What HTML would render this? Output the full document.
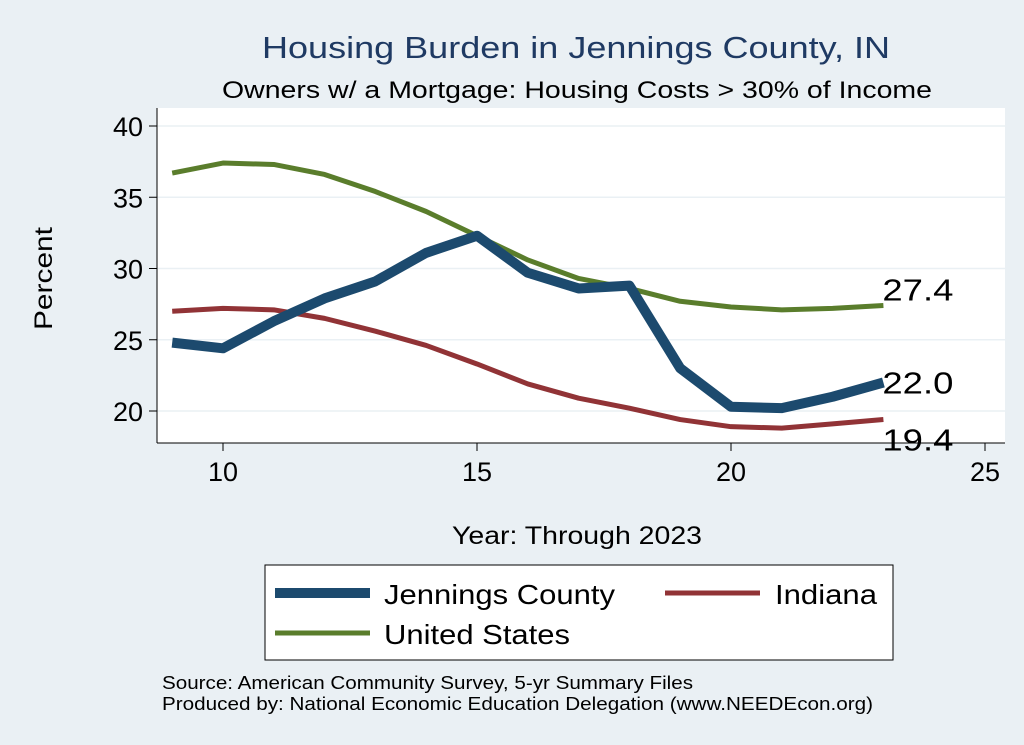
<!DOCTYPE html>
<html><head><meta charset="utf-8"><style>
body{margin:0;background:#eaf0f4;}
svg{display:block;font-family:"Liberation Sans",sans-serif;}
</style></head><body>
<svg id="chart" width="1024" height="745">
<rect x="0" y="0" width="1024" height="745" fill="#eaf0f4"/>
<text x="262" y="58" font-size="31" fill="#1f3a63" textLength="628" lengthAdjust="spacingAndGlyphs">Housing Burden in Jennings County, IN</text>
<text x="222" y="98" font-size="24" fill="#000" textLength="710" lengthAdjust="spacingAndGlyphs">Owners w/ a Mortgage: Housing Costs &gt; 30% of Income</text>
<rect x="157" y="108" width="848" height="335" fill="#fff"/>
<g id="grid"></g>
<g id="axes"></g>
<g id="series"></g>
<text x="52" y="330" font-size="25" textLength="103" lengthAdjust="spacingAndGlyphs" transform="rotate(-90 52 330)">Percent</text>
<text x="452" y="544" font-size="25" textLength="250" lengthAdjust="spacingAndGlyphs">Year: Through 2023</text>
<g>
<rect x="265" y="565" width="628" height="95" fill="#fff" stroke="#000" stroke-width="1"/>
<line x1="275" y1="593" x2="370" y2="593" stroke="#1c4a6e" stroke-width="10"/>
<text x="384" y="604" font-size="28" textLength="231" lengthAdjust="spacingAndGlyphs">Jennings County</text>
<line x1="665" y1="593" x2="760" y2="593" stroke="#913336" stroke-width="5"/>
<text x="775" y="604" font-size="28" textLength="102" lengthAdjust="spacingAndGlyphs">Indiana</text>
<line x1="275" y1="633" x2="370" y2="633" stroke="#5a7d2c" stroke-width="5"/>
<text x="384" y="644" font-size="28" textLength="186" lengthAdjust="spacingAndGlyphs">United States</text>
</g>
<text x="162" y="689" font-size="18" textLength="531" lengthAdjust="spacingAndGlyphs">Source: American Community Survey, 5-yr Summary Files</text>
<text x="162" y="710" font-size="18" textLength="711" lengthAdjust="spacingAndGlyphs">Produced by: National Economic Education Delegation (www.NEEDEcon.org)</text>
</svg>
<script>
const years=[9,10,11,12,13,14,15,16,17,18,19,20,21,22,23];
const jennings=[24.8,24.4,26.3,27.9,29.1,31.1,32.3,29.7,28.6,28.8,23.0,20.3,20.2,21.0,22.0];
const indiana=[27.0,27.2,27.1,26.5,25.6,24.6,23.3,21.9,20.9,20.2,19.4,18.9,18.8,19.1,19.4];
const us=[36.7,37.4,37.3,36.6,35.4,34.0,32.3,30.6,29.3,28.6,27.7,27.3,27.1,27.2,27.4];
const xTicks=[10,15,20,25];
const yTicks=[20,25,30,35,40];
const NS="http://www.w3.org/2000/svg";
function X(v){return 223+(v-10)*50.8;}
function Y(v){return 411-(v-20)*14.25;}
function mk(tag,attrs,parent,text){const e=document.createElementNS(NS,tag);for(const k in attrs)e.setAttribute(k,attrs[k]);if(text!==undefined)e.textContent=text;parent.appendChild(e);return e;}
const grid=document.getElementById('grid'),axes=document.getElementById('axes'),ser=document.getElementById('series');
yTicks.forEach(t=>{
 const g=mk('line',{x1:157,x2:1005,y1:Y(t),y2:Y(t),stroke:'#eaf0f4','stroke-width':1.5},grid);
 
 
 const tk=mk('line',{x1:149,x2:157,y1:Y(t),y2:Y(t),stroke:'#000'},axes);
 
 
 const lb=mk('text',{x:143,y:Y(t)+10,'font-size':27,'text-anchor':'end'},axes,String(t));
 
 
});
mk('line',{x1:157,x2:157,y1:108,y2:443,stroke:'#000'},axes);
mk('line',{x1:157,x2:1005,y1:443,y2:443,stroke:'#000'},axes);
xTicks.forEach(t=>{
 const tk=mk('line',{x1:X(t),x2:X(t),y1:443,y2:451,stroke:'#000'},axes);
 
 
 const lb=mk('text',{x:X(t),y:481,'font-size':27,'text-anchor':'middle'},axes,String(t));
 
 
});
function line(vals,color,w,name){
 const p=mk('polyline',{points:years.map((y,i)=>X(y)+','+Y(vals[i])).join(' '),fill:'none',stroke:color,'stroke-width':w,'stroke-linejoin':'round'},ser);
 
 
}
line(us,'#5a7d2c',5,'line-united-states');
line(indiana,'#913336',5,'line-indiana');
line(jennings,'#1c4a6e',10,'line-jennings-county');
const n=years.length-1;
[[us,'label-us-last',-5],[jennings,'label-jennings-last',11],[indiana,'label-indiana-last',31]].forEach(([v,nm,dy])=>{
 const e=mk('text',{x:X(years[n])-1,y:Y(v[n])+dy,'font-size':31,textLength:71,lengthAdjust:'spacingAndGlyphs'},ser,v[n].toFixed(1));
 
 
});
</script>
</body></html>
